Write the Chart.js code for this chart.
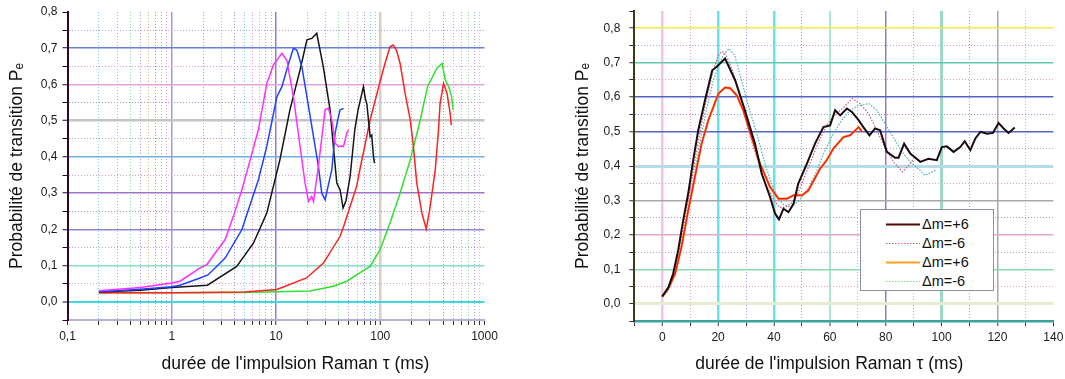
<!DOCTYPE html>
<html><head><meta charset="utf-8">
<script src="https://cdn.jsdelivr.net/npm/chart.js@4.4.1/dist/chart.umd.min.js"></script>
<style>
html,body{margin:0;padding:0;background:#fff;}
#wrap{position:relative;width:1065px;height:379px;overflow:hidden;background:#fff;}
#c1{position:absolute;left:0;top:0;}
#c2{position:absolute;left:530px;top:0;}
#legend{position:absolute;left:860px;top:209px;width:134px;height:82px;border:1px solid #8c90a0;background:#fff;box-sizing:border-box;font-family:"Liberation Sans",Arial,sans-serif;font-size:14.5px;color:#111;}
.row{position:absolute;left:0;height:19px;width:100%;}
.row svg{position:absolute;left:24px;top:0;}
.row span{position:absolute;left:61px;top:0px;line-height:19px;}
</style></head><body>
<div id="wrap">
<canvas id="c1" width="530" height="379"></canvas>
<canvas id="c2" width="535" height="379"></canvas>
<div id="legend"></div>
</div>
<script>
// ---------- LEFT PANEL DATA (log x) ----------
const magentaX = [0.2,0.5,1.0,1.2,1.87,2.17,3.25,3.9,4.7,5.65,6.78,8.16,9.45,11.4,12.7,14.7,17.0,19.0,20.5,22.0,22.9,25.5,29.6,31.8,34.3,36.9,39.7,42.8,44.5,47.8,49.6];
const magentaY = [0.031,0.04,0.052,0.057,0.094,0.103,0.172,0.236,0.309,0.392,0.475,0.603,0.654,0.686,0.667,0.566,0.429,0.328,0.277,0.291,0.277,0.374,0.530,0.534,0.502,0.438,0.429,0.43,0.429,0.466,0.475];
const blueX = [0.2,0.5,1.0,1.2,1.87,2.24,3.25,4.7,6.78,8.16,10.2,11.4,13.2,14.7,15.85,17.7,19.8,22.9,25.5,27.5,29.6,31.8,34.3,36.9,39.7,41.2,44.5];
const blueY = [0.028,0.035,0.042,0.046,0.066,0.075,0.121,0.199,0.337,0.429,0.566,0.594,0.658,0.70,0.695,0.649,0.566,0.456,0.374,0.30,0.282,0.323,0.364,0.466,0.511,0.53,0.534];
const blackX = [0.2,0.5,1.0,2.2,4.2,6.07,8.16,10.9,13.6,17.0,19.8,22.0,24.6,28.4,33.0,35.5,38.3,41.2,44.0,47.0,51.4,57.0,61.3,69.0,71.8,74.4,80.0,82.8,86.1,88.0];
const blackY = [0.027,0.032,0.04,0.046,0.098,0.162,0.245,0.392,0.53,0.64,0.723,0.727,0.741,0.649,0.53,0.429,0.328,0.309,0.259,0.28,0.346,0.475,0.53,0.594,0.562,0.546,0.456,0.46,0.401,0.383];
const redX = [0.2,1.0,1.87,5,10.2,19.6,28.5,41.2,44.5,51.4,59.5,63.6,80.0,89.6,99.6,111,124,133,143,155,173,194,208,224,251,276,298,337,362,375,405,437,468,480];
const redY = [0.025,0.025,0.026,0.027,0.034,0.066,0.107,0.181,0.208,0.263,0.32,0.364,0.502,0.557,0.608,0.658,0.704,0.709,0.695,0.658,0.576,0.502,0.429,0.328,0.245,0.201,0.254,0.364,0.475,0.548,0.603,0.576,0.521,0.488];
const greenX = [0.2,1.0,5,10.2,21.2,35.5,47.8,63.6,80,99.6,124,155,194,242,284,349,392,421,453,484,500];
const greenY = [0.025,0.025,0.026,0.028,0.03,0.043,0.057,0.08,0.098,0.144,0.218,0.30,0.392,0.502,0.594,0.645,0.658,0.612,0.594,0.566,0.53];

const leftXTickValues = [0.1,1,10,100,1000];
const leftXTickLabels = ['0,1','1','10','100','1000'];
const yTickValues = [0,0.1,0.2,0.3,0.4,0.5,0.6,0.7,0.8];
const yTickLabels = ['0,0','0,1','0,2','0,3','0,4','0,5','0,6','0,7','0,8'];

// ---------- RIGHT PANEL DATA (linear x) ----------
const rBlackX = [0,2.2,3.9,5.7,7.5,9.3,11.1,12.9,15.3,17.9,19.5,22.5,26.1,29.6,33.2,35.6,38.6,40.4,41.8,43.4,45.2,47.0,48.7,51.8,54.7,57.7,60.1,61.9,63.7,66.1,67.9,70.3,72.0,74.2,76.2,78.0,80.4,83.4,84.6,86.6,88.8,92.4,95.3,98.3,100.1,101.9,104.3,106.7,108.3,110.3,112.1,113.9,116.3,118.4,120.4,122.2,124.0,126.2];
const rBlackY = [0.021,0.048,0.087,0.155,0.242,0.32,0.417,0.504,0.591,0.678,0.688,0.712,0.649,0.562,0.465,0.378,0.31,0.262,0.245,0.276,0.266,0.29,0.349,0.407,0.465,0.513,0.518,0.562,0.547,0.567,0.557,0.533,0.513,0.489,0.509,0.504,0.441,0.424,0.424,0.465,0.436,0.412,0.421,0.417,0.455,0.457,0.441,0.455,0.472,0.446,0.48,0.499,0.494,0.496,0.525,0.509,0.496,0.512];
const rRedX = [0,2.2,4.6,6.9,9.3,11.7,14.1,16.5,18.3,20.1,22.5,24.3,26.7,29.0,32.0,35.0,38.6,41.6,44.6,47.0,50.0,52.3,56.5,58.9,61.3,64.9,67.3,70.3,71.5];
const rRedY = [0.021,0.045,0.087,0.165,0.271,0.368,0.465,0.533,0.571,0.61,0.628,0.626,0.605,0.562,0.484,0.407,0.339,0.305,0.305,0.315,0.315,0.329,0.392,0.417,0.451,0.484,0.489,0.513,0.499];
const rDot1X = [0,2,4,6,8,10,12,14,16,18,20,21.5,23,25,28,31,34,37,40,42,44,46,48,50,53,56,59,62,65,68,71,74,77,80,83,86,88,90];
const rDot1Y = [0.02,0.04,0.08,0.15,0.24,0.33,0.43,0.52,0.60,0.67,0.72,0.733,0.72,0.68,0.60,0.50,0.42,0.35,0.30,0.28,0.28,0.29,0.31,0.35,0.41,0.47,0.52,0.55,0.57,0.596,0.58,0.55,0.50,0.45,0.41,0.383,0.40,0.42];
const rDot2X = [0,2,4,6,8,10,12,14,16,18,20,22,24,26,28,31,34,37,40,43,46,49,52,55,58,61,64,67,70,74,77,80,83,86,89,92,94,96,98];
const rDot2Y = [0.02,0.035,0.07,0.13,0.21,0.30,0.40,0.49,0.57,0.64,0.69,0.725,0.741,0.72,0.66,0.57,0.49,0.40,0.33,0.29,0.28,0.30,0.33,0.38,0.44,0.49,0.53,0.56,0.575,0.581,0.56,0.52,0.48,0.44,0.41,0.39,0.373,0.38,0.388];
const rightSeriesLabels = ['Δm=+6','Δm=-6','Δm=+6','Δm=-6'];
const rightXTickValues = [0,20,40,60,80,100,120,140];
const rightXTickLabels = ['0','20','40','60','80','100','120','140'];

// ---------- helpers ----------
const FONT = '"Liberation Sans", Arial, sans-serif';
const pts = (xs, ys) => xs.map((x, i) => ({x: x, y: ys[i]}));
const minorPalette = ['#a890e0','#80cce8','#e89cc8','#90d8a0','#b0a4ec','#e0b888'];
const CLEAR = 'rgba(0,0,0,0)';
function labelFrom(values, labels, v, log) {
  const i = values.findIndex(t => log ? Math.abs(Math.log10(t) - Math.log10(v)) < 1e-6 : Math.abs(t - v) < 1e-6);
  return i >= 0 ? labels[i] : '';
}
function gridStyle(majorMap, isMajor, keyOf, isEdge) {
  return {
    color: c => { if (!c.tick) return CLEAR; const v = c.tick.value; if (isEdge(v)) return CLEAR; const m = majorMap[keyOf(v)]; if (m) return m[0]; if (isMajor(v)) return CLEAR; return minorPalette[c.index % minorPalette.length]; },
    lineWidth: c => { if (!c.tick) return 1; const m = majorMap[keyOf(c.tick.value)]; return m ? m[1] : 1; },
    dash: c => { if (!c.tick) return []; return majorMap[keyOf(c.tick.value)] ? [] : [1, 2]; }
  };
}
const yKey = v => v.toFixed(2);
const yIsMajor = v => Math.round(v * 20) % 2 === 0;
function yTicks(lo, hi) { const out = []; for (let k = Math.round(lo * 20); k <= Math.round(hi * 20); k++) out.push({value: +(k * 0.05).toFixed(2)}); return out; }
const fitY = w => s => { s.width = w; s.paddingTop = 0; s.paddingBottom = 0; };
const fitX = h => s => { s.height = h; s.paddingLeft = 0; s.paddingRight = 0; };

// ---------- LEFT CHART ----------
const lyMajor = {'0.70':['#6a80d8',1.5],'0.60':['#e8a4d8',1.5],'0.50':['#c4c4c4',2.5],'0.40':['#74aee0',1.5],'0.30':['#a074c8',1.5],'0.20':['#9484d4',1.5],'0.10':['#88dcc8',1.5],'0.00':['#40d8e0',2]};
const lyG = gridStyle(lyMajor, yIsMajor, yKey, v => v < -0.04 || v > 0.79);
const lxMajor = {'1':['#9c9ce8',1.5],'10':['#9478e0',1.5],'100':['#d4d0c4',2.5]};
const lxKey = v => String(+v.toPrecision(3));
const lxIsMajor = v => Math.abs(Math.log10(v) - Math.round(Math.log10(v))) < 1e-6;
const lxG = gridStyle(lxMajor, lxIsMajor, lxKey, v => v < 0.11 || v > 999);

// Chart.js paints dataset 0 last (on top)
const leftDs = [
  {label:'magenta', data: pts(magentaX, magentaY), borderColor:'#ff30ff'},
  {label:'bleu', data: pts(blueX, blueY), borderColor:'#2040ff'},
  {label:'noir', data: pts(blackX, blackY), borderColor:'#141414'},
  {label:'rouge', data: pts(redX, redY), borderColor:'#ff2020'},
  {label:'vert', data: pts(greenX, greenY), borderColor:'#30e030'}
].map(d => Object.assign(d, {borderWidth:1.5, pointRadius:0, fill:false, tension:0}));

new Chart(document.getElementById('c1'), {
  type: 'line',
  data: {datasets: leftDs},
  options: {
    responsive:false, animation:false, devicePixelRatio:1,
    layout:{padding:{left:0,right:45.5,top:12,bottom:0}},
    plugins:{legend:{display:false}, tooltip:{enabled:false}},
    scales:{
      x:{
        type:'logarithmic', min:0.1, max:1000,
        afterBuildTicks: s => { const t = []; for (let e = -1; e <= 2; e++) for (let m = 1; m <= 9; m++) t.push({value: +(m * Math.pow(10, e)).toPrecision(3)}); t.push({value:1000}); s.ticks = t; },
        afterFit: fitX(59),
        ticks:{autoSkip:false, maxRotation:0, padding:4, color:'#1a1a1a', font:{family:FONT, size:12}, callback: v => labelFrom(leftXTickValues, leftXTickLabels, v, true)},
        grid:{color:lxG.color, lineWidth:lxG.lineWidth, tickLength:5, tickColor:'#303030', tickWidth:1},
        border:{display:true, color:'#b8b0d8', width:2, dash:lxG.dash},
        title:{display:true, text:'        durée de l\'impulsion Raman τ (ms)', color:'#111', font:{family:FONT, size:17.5}, padding:{top:0,bottom:4.5}}
      },
      y:{
        type:'linear', min:-0.05, max:0.8,
        afterBuildTicks: s => { s.ticks = yTicks(-0.05, 0.8); },
        afterFit: fitY(67.5),
        ticks:{autoSkip:false, padding:5, color:'#1a1a1a', font:{family:FONT, size:12}, callback: v => labelFrom(yTickValues, yTickLabels, v, false)},
        grid:{color:lyG.color, lineWidth:lyG.lineWidth, tickLength:5, tickColor:'#300030', tickWidth:1},
        border:{display:true, color:'#2a0a2a', width:2, dash:lyG.dash},
        title:{display:true, text:'Probabilité de transition Pₑ', color:'#111', font:{family:FONT, size:17.5}, padding:{top:7,bottom:0}}
      }
    }
  }
});

// ---------- RIGHT CHART ----------
const ryMajor = {'0.80':['#f0ec40',1.5],'0.70':['#64c8b0',1.5],'0.60':['#5464c4',1.5],'0.50':['#5464c4',1.5],'0.40':['#b4dce8',3],'0.30':['#a8a8a8',1.5],'0.20':['#e4a8cc',1.5],'0.10':['#88dcac',1.5],'0.00':['#e6ecd2',3]};
const ryG = gridStyle(ryMajor, yIsMajor, yKey, v => v < -0.04 || v > 0.84);
const rxMajor = {'0':['#f4c4e4',2.5],'20':['#64e4ec',2.5],'40':['#64e4ec',2.5],'60':['#a8e8cc',2],'80':['#9c74cc',1.5],'100':['#9cd8c8',3],'120':['#a8a8a8',1.5]};
const rxKey = v => String(Math.round(v));
const rxIsMajor = v => Math.round(v) % 20 === 0;
const rxG = gridStyle(rxMajor, rxIsMajor, rxKey, v => v < -9 || v > 139);

// index 0 is painted on top
const rightDs = [
  {label:rightSeriesLabels[0], data: pts(rBlackX, rBlackY), borderColor:'#1a0c0c', borderWidth:2},
  {label:'rouge', data: pts(rRedX, rRedY), borderColor:'#ff1a1a', borderWidth:1.5},
  {label:rightSeriesLabels[2], data: pts(rRedX, rRedY), borderColor:'#ffa020', borderWidth:2.2},
  {label:rightSeriesLabels[1], data: pts(rDot1X, rDot1Y), borderColor:'#c86080', borderWidth:1.2, borderDash:[1.5,1.5]},
  {label:rightSeriesLabels[3], data: pts(rDot2X, rDot2Y), borderColor:'#4cb0b8', borderWidth:1.2, borderDash:[1.5,1.5]}
].map(d => Object.assign(d, {pointRadius:0, fill:false, tension:0}));

new Chart(document.getElementById('c2'), {
  type: 'line',
  data: {datasets: rightDs},
  options: {
    responsive:false, animation:false, devicePixelRatio:1,
    layout:{padding:{left:0,right:11.7,top:11,bottom:0}},
    plugins:{legend:{display:false}, tooltip:{enabled:false}},
    scales:{
      x:{
        type:'linear', min:-10, max:140,
        afterBuildTicks: s => { const t = []; for (let v = -10; v <= 140; v += 10) t.push({value:v}); s.ticks = t; },
        afterFit: fitX(58),
        ticks:{autoSkip:false, maxRotation:0, padding:4, color:'#1a1a1a', font:{family:FONT, size:12}, callback: v => labelFrom(rightXTickValues, rightXTickLabels, v, false)},
        grid:{color:rxG.color, lineWidth:rxG.lineWidth, tickLength:5, tickColor:'#303030', tickWidth:1},
        border:{display:true, color:'#3aa0a0', width:2.5, dash:rxG.dash},
        title:{display:true, text:'durée de l\'impulsion Raman τ (ms)      ', color:'#111', font:{family:FONT, size:17.5}, padding:{top:0,bottom:4.5}}
      },
      y:{
        type:'linear', min:-0.05, max:0.85,
        afterBuildTicks: s => { s.ticks = yTicks(-0.05, 0.85); },
        afterFit: fitY(104.3),
        ticks:{autoSkip:false, padding:9, color:'#1a1a1a', font:{family:FONT, size:12}, callback: v => labelFrom(yTickValues, yTickLabels, v, false)},
        grid:{color:ryG.color, lineWidth:ryG.lineWidth, tickLength:5, tickColor:'#303020', tickWidth:1},
        border:{display:true, color:'#3a3a20', width:2, dash:ryG.dash},
        title:{display:true, text:'Probabilité de transition Pₑ', color:'#111', font:{family:FONT, size:17.5}, padding:{top:43,bottom:0}}
      }
    }
  }
});

// ---------- HTML legend (built from the right chart's datasets) ----------
(function buildLegend() {
  const box = document.getElementById('legend');
  const legendSets = [rightDs[0], rightDs[3], rightDs[2], rightDs[4]];
  const legendColors = ['#500808', '#c86080', '#ffa020', '#80d880'];
  legendSets.forEach((d, i) => {
    const row = document.createElement('div');
    row.className = 'row';
    row.style.top = (4.5 + 19 * i) + 'px';
    const dash = d.borderDash ? d.borderDash.join(',') : '';
    row.innerHTML = '<svg width="36" height="19"><line x1="1" y1="9.5" x2="35" y2="9.5" stroke="' + legendColors[i] + '" stroke-width="' + (dash ? 1 : 2) + '"' + (dash ? ' stroke-dasharray="' + dash + '"' : '') + '/></svg><span></span>';
    row.querySelector('span').textContent = d.label;
    box.appendChild(row);
  });
})();
</script>
</body></html>
